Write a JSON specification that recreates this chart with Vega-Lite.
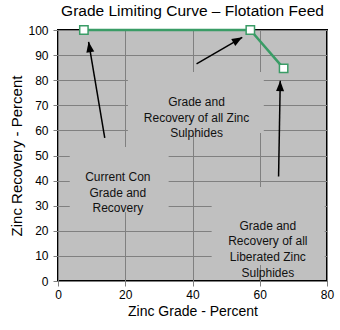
{
  "$schema": "https://vega.github.io/schema/vega-lite/v6.json",
  "width": 269,
  "height": 251,
  "autosize": {"type": "none"},
  "padding": {"left": 58, "top": 30, "right": 13, "bottom": 49},
  "background": "white",
  "config": {
    "font": "Liberation Sans",
    "view": {"fill": "#c0c0c0", "stroke": "black", "strokeWidth": 2},
    "axis": {
      "domain": false, "grid": true, "gridColor": "#808080", "gridWidth": 1, "gridOpacity": 1,
      "tickColor": "#808080", "tickSize": 5, "labelFontSize": 12, "labelColor": "black",
      "labelOverlap": false, "labelFlush": false, "titleFontWeight": "normal", "titleColor": "black"
    },
    "axisX": {"labelPadding": 3, "titleFontSize": 14, "titlePadding": 4},
    "axisY": {"labelPadding": 5, "titleFontSize": 15, "titlePadding": 3}
  },
  "title": {
    "text": "Grade Limiting Curve – Flotation Feed",
    "fontSize": 15.5,
    "fontWeight": "normal",
    "color": "black",
    "anchor": "middle",
    "frame": "group",
    "baseline": "alphabetic",
    "offset": 9,
    "dy": 18
  },
  "datasets": {
    "curve": [
      {"grade": 7.7, "recovery": 100},
      {"grade": 57.2, "recovery": 100},
      {"grade": 67.1, "recovery": 84.7}
    ],
    "boxes": [
      {"x": 3.5, "x2": 32.9, "y": 27.5, "y2": 53.4},
      {"x": 20.8, "x2": 61.2, "y": 59.0, "y2": 83.3},
      {"x": 45.7, "x2": 79.3, "y": 6.4, "y2": 37.5}
    ],
    "arrows": [
      {"x": 13.9, "y": 57.0, "x2": 9.1, "y2": 95.3, "angle": 350.6},
      {"x": 41.2, "y": 86.5, "x2": 54.8, "y2": 97.1, "angle": 59.9},
      {"x": 65.6, "y": 41.6, "x2": 66.1, "y2": 79.8, "angle": 1}
    ],
    "notes": [
      {"x": 17.8, "y": 41.4, "label": "Current Con\nGrade and\nRecovery"},
      {"x": 41.2, "y": 71.3, "label": "Grade and\nRecovery of all Zinc\nSulphides"},
      {"x": 62.4, "y": 22.1, "label": "Grade and\nRecovery of all\nLiberated Zinc\nSulphides"}
    ]
  },
  "layer": [
    {
      "data": {"name": "boxes"},
      "mark": {"type": "rect", "fill": "#c0c0c0", "strokeWidth": 0},
      "encoding": {
        "x": {"field": "x", "type": "quantitative", "scale": {"domain": [0, 80], "nice": false},
          "axis": {"values": [0, 20, 40, 60, 80], "title": "Zinc Grade - Percent"}},
        "x2": {"field": "x2"},
        "y": {"field": "y", "type": "quantitative", "scale": {"domain": [0, 100], "nice": false},
          "axis": {"values": [0, 10, 20, 30, 40, 50, 60, 70, 80, 90, 100], "title": "Zinc Recovery - Percent"}},
        "y2": {"field": "y2"}
      }
    },
    {
      "data": {"name": "arrows"},
      "mark": {"type": "rule", "color": "black", "strokeWidth": 1.5},
      "encoding": {
        "x": {"field": "x", "type": "quantitative",
          "axis": {"values": [0, 20, 40, 60, 80], "title": "Zinc Grade - Percent"}},
        "y": {"field": "y", "type": "quantitative",
          "axis": {"values": [0, 10, 20, 30, 40, 50, 60, 70, 80, 90, 100], "title": "Zinc Recovery - Percent"}},
        "x2": {"field": "x2"},
        "y2": {"field": "y2"}
      }
    },
    {
      "data": {"name": "arrows"},
      "mark": {"type": "point", "shape": "M0,0L-1,2.6L1,2.6Z", "filled": true, "color": "black", "size": 64, "opacity": 1},
      "encoding": {
        "x": {"field": "x2", "type": "quantitative",
          "axis": {"values": [0, 20, 40, 60, 80], "title": "Zinc Grade - Percent"}},
        "y": {"field": "y2", "type": "quantitative",
          "axis": {"values": [0, 10, 20, 30, 40, 50, 60, 70, 80, 90, 100], "title": "Zinc Recovery - Percent"}},
        "angle": {"field": "angle", "type": "quantitative", "scale": null}
      }
    },
    {
      "data": {"name": "curve"},
      "mark": {"type": "line", "color": "#3a9c66", "strokeWidth": 2.5},
      "encoding": {
        "x": {"field": "grade", "type": "quantitative",
          "axis": {"values": [0, 20, 40, 60, 80], "title": "Zinc Grade - Percent"}},
        "y": {"field": "recovery", "type": "quantitative",
          "axis": {"values": [0, 10, 20, 30, 40, 50, 60, 70, 80, 90, 100], "title": "Zinc Recovery - Percent"}}
      }
    },
    {
      "data": {"name": "curve"},
      "mark": {"type": "point", "shape": "square", "filled": true, "fill": "white", "stroke": "#3a9c66", "strokeWidth": 1.5, "size": 70, "opacity": 1},
      "encoding": {
        "x": {"field": "grade", "type": "quantitative",
          "axis": {"values": [0, 20, 40, 60, 80], "title": "Zinc Grade - Percent"}},
        "y": {"field": "recovery", "type": "quantitative",
          "axis": {"values": [0, 10, 20, 30, 40, 50, 60, 70, 80, 90, 100], "title": "Zinc Recovery - Percent"}}
      }
    },
    {
      "data": {"name": "notes"},
      "mark": {"type": "text", "fontSize": 12, "color": "#111111", "align": "center", "baseline": "middle", "lineBreak": "\n", "lineHeight": 15.7},
      "encoding": {
        "x": {"field": "x", "type": "quantitative",
          "axis": {"values": [0, 20, 40, 60, 80], "title": "Zinc Grade - Percent"}},
        "y": {"field": "y", "type": "quantitative",
          "axis": {"values": [0, 10, 20, 30, 40, 50, 60, 70, 80, 90, 100], "title": "Zinc Recovery - Percent"}},
        "text": {"field": "label"}
      }
    }
  ]
}
